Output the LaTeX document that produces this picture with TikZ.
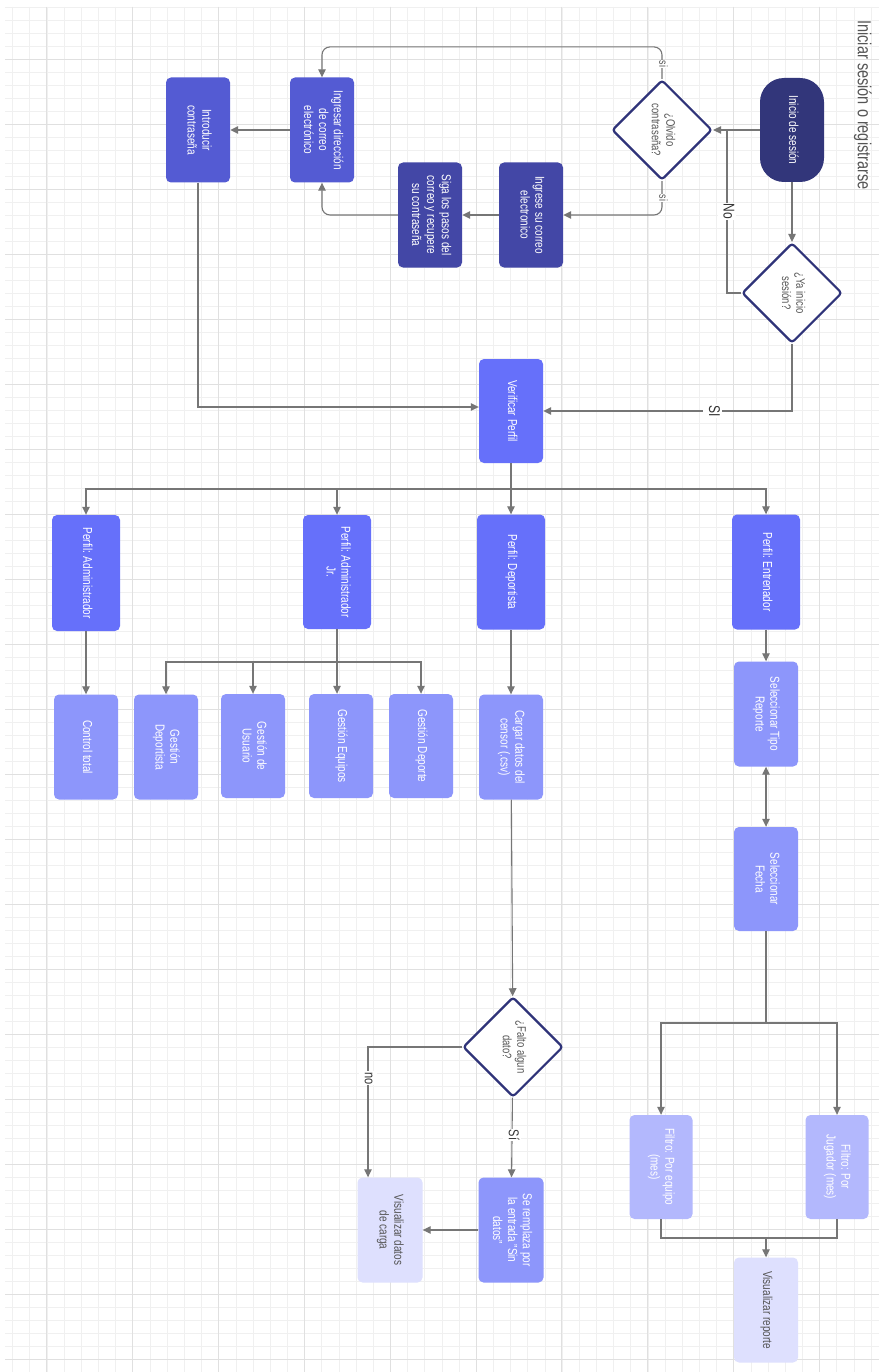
\documentclass[tikz,border=0pt]{standalone}
\usepackage{fontspec}
\setmainfont{Liberation Sans}
\usepackage{graphicx}
\usetikzlibrary{arrows.meta,shapes.geometric,calc}
\definecolor{navy}{HTML}{32367A}
\definecolor{dnavy}{HTML}{2F3379}
\definecolor{dblue}{HTML}{4347A6}
\definecolor{mblue}{HTML}{545BD3}
\definecolor{pblue}{HTML}{6670FA}
\definecolor{lblue}{HTML}{8D96FB}
\definecolor{fblue}{HTML}{B3B8FD}
\definecolor{vlight}{HTML}{DEE0FE}
\definecolor{edgegray}{HTML}{767676}
\definecolor{txtgray}{HTML}{555555}
\definecolor{gminor}{HTML}{F0F0F0}
\definecolor{gmajor}{HTML}{E0E0E0}
\newcommand{\rt}[1]{\rotatebox{-90}{\scalebox{1}[1.3]{\begin{tabular}{@{}c@{}}#1\end{tabular}}}}
\begin{document}
\begin{tikzpicture}[x=1pt,y=-1pt,
  box/.style={rectangle, rounded corners=5, inner sep=0pt, minimum width=64, minimum height=105, text=white, font=\fontsize{10}{11.5}\selectfont},
  dia/.style={diamond, aspect=1, inner sep=0pt, minimum width=100, minimum height=100, draw=dnavy, line width=2.2pt, fill=white, rounded corners=3, text=txtgray, font=\fontsize{9.5}{11}\selectfont},
  line/.style={draw=edgegray, line width=1.1pt},
  arr/.style={line, -{Triangle[length=8pt,width=7.5pt]}},
  darr/.style={line, {Triangle[length=8pt,width=7.5pt]}-{Triangle[length=8pt,width=7.5pt]}},
  lab/.style={fill=white, inner sep=1pt, text=txtgray, font=\fontsize{9}{10}\selectfont},
  blab/.style={fill=white, inner sep=1pt, text=black!80, font=\fontsize{12}{13}\selectfont},
  gminorl/.style={draw=gminor, line width=0.8pt},
  gmajorl/.style={draw=gmajor, line width=0.9pt}]
\useasboundingbox (0,0) rectangle (879,1372);
\fill[white] (0,0) rectangle (879,1372);
% grid
\foreach \i in {0,...,50} {\draw[gminorl] ({12.7+\i*17.17},7) -- ({12.7+\i*17.17},1372);}
\foreach \i in {0,...,104} {\draw[gminorl] (5,{7.3+\i*13}) -- (879,{7.3+\i*13});}
\foreach \i in {0,...,9} {\draw[gmajorl] ({46.7+\i*85.85},7) -- ({46.7+\i*85.85},1372);}
\foreach \i in {0,...,20} {\draw[gmajorl] (5,{59.3+\i*65}) -- (879,{59.3+\i*65});}

% title
\node[text=txtgray, font=\fontsize{14.5}{16}\selectfont, inner sep=0pt] (title) at (862,105) {\rt{Iniciar sesión o registrarse}};

% nodes
\node[box, fill=navy, rounded corners=24, minimum height=104] (inicio) at (792,130) {\rt{Inicio de sesión}};
\node[dia] (olvido) at (662,130) {\rt{¿Olvido\\contraseña?}};
\node[dia] (ya) at (792,293) {\rt{¿Ya inicio\\sesión?}};
\node[box, fill=dblue] (ingrese) at (531,215) {\rt{Ingrese su correo\\electronico}};
\node[box, fill=dblue] (siga) at (430,215) {\rt{Siga los pasos del\\correo y recupere\\su contraseña}};
\node[box, fill=mblue] (ingresar) at (322,130) {\rt{Ingresar dirección\\de correo\\electrónico}};
\node[box, fill=mblue] (introducir) at (198,130) {\rt{Introducir\\contraseña}};
\node[box, fill=pblue, minimum height=104] (verificar) at (511,411) {\rt{Verificar Perfil}};
\node[box, fill=pblue, minimum width=68, minimum height=115] (entrenador) at (766,572) {\rt{Perfil: Entrenador}};
\node[box, fill=pblue, minimum width=68, minimum height=115] (deportista) at (511,572) {\rt{Perfil: Deportista}};
\node[box, fill=pblue, minimum width=68, minimum height=114] (adminjr) at (337,572) {\rt{Perfil: Administrador\\Jr.}};
\node[box, fill=pblue, minimum width=68, minimum height=116] (admin) at (86,573) {\rt{Perfil: Administrador}};
\node[box, fill=lblue] (control) at (86,747) {\rt{Control total}};
\node[box, fill=lblue] (gdeportista) at (166,747) {\rt{Gestión\\Deportista}};
\node[box, fill=lblue, minimum height=104] (gusuario) at (253,746) {\rt{Gestión de\\Usuario}};
\node[box, fill=lblue, minimum height=104] (gequipos) at (341,746) {\rt{Gestión Equipos}};
\node[box, fill=lblue, minimum height=104] (gdeporte) at (421,746) {\rt{Gestión Deporte}};
\node[box, fill=lblue] (cargar) at (511,747) {\rt{Cargar datos del\\censor (.csv)}};
\node[box, fill=lblue] (tipo) at (766,714) {\rt{Seleccionar Tipo\\Reporte}};
\node[box, fill=lblue, minimum height=104] (fecha) at (766,879) {\rt{Seleccionar\\Fecha}};
\node[box, fill=fblue, minimum width=63, minimum height=104] (filtroE) at (661,1167) {\rt{Filtro: Por equipo\\(mes)}};
\node[box, fill=fblue, minimum width=63, minimum height=104] (filtroJ) at (837,1167) {\rt{Filtro: Por\\Jugador (mes)}};
\node[box, fill=vlight, text=txtgray] (visrep) at (766,1310) {\rt{Visualizar reporte}};
\node[dia] (falto) at (513,1047) {\rt{¿Falto algun\\dato?}};
\node[box, fill=lblue, minimum width=65] (remplaza) at (511,1230) {\rt{Se remplaza por\\la entrada "Sin\\datos"}};
\node[box, fill=vlight, text=txtgray, minimum width=65] (visdatos) at (390,1230) {\rt{Visualizar datos\\de carga}};

% coordinates
\coordinate (nojoin) at (727,130);
\coordinate (bus1) at (511,489);
\coordinate (bus2) at (337,662);
\coordinate (bus3) at (766,1023);
\coordinate (join3) at (766,1238);

% connectors
\draw[arr] (inicio) -- (ya);
\draw[arr] (inicio) -- (olvido);
\draw[line] (ya.west) -| (nojoin) node[pos=0.75, blab] {\rt{No}};
\draw[arr, rounded corners=8] (olvido.north) -- ++(0,-32) -| (ingresar.north);
\node[lab] (silab1) at (662,64) {\rt{si}};
\draw[arr, rounded corners=8] (olvido.south) |- (ingrese.east);
\node[lab] (silab2) at (662,198) {\rt{si}};
\draw[arr] (ingrese) -- (siga);
\draw[arr, rounded corners=8] (siga.west) -| (ingresar.south);
\draw[arr] (ingresar) -- (introducir);
\draw[arr] (introducir.south) |- ([yshift=4pt]verificar.west);
\draw[arr] (ya.south) |- (verificar.east) node[pos=0.66, blab] {\rt{SI}};
\draw[arr] (verificar) -- (deportista);
\draw[arr] (verificar.south) -- (bus1) -| (entrenador.north);
\draw[arr] (verificar.south) -- (bus1) -| (adminjr.north);
\draw[arr] (verificar.south) -- (bus1) -| (admin.north);
\draw[arr] (admin) -- (control);
\draw[arr] (adminjr.south) -- (bus2) -- (bus2 |- gequipos.north);
\draw[arr] (adminjr.south) -- (bus2) -| (gdeportista.north);
\draw[arr] (adminjr.south) -- (bus2) -| (gusuario.north);
\draw[arr] (adminjr.south) -- (bus2) -| (gdeporte.north);
\draw[arr] (deportista) -- (cargar);
\draw[arr] (cargar) -- (falto);
\draw[arr] (entrenador) -- (tipo);
\draw[darr] (tipo) -- (fecha);
\draw[arr] (fecha.south) -- (bus3) -| (filtroE.north);
\draw[arr] (fecha.south) -- (bus3) -| (filtroJ.north);
\draw[line] (filtroE.south) |- (join3) -| (filtroJ.south);
\draw[arr] (join3) -- (visrep);
\draw[arr] (falto) -- (remplaza) node[pos=0.47, blab, font=\fontsize{11}{12}\selectfont] {\rt{Sí}};
\draw[arr] (falto.west) -| ([xshift=-22pt]visdatos.north) node[pos=0.62, blab, font=\fontsize{11}{12}\selectfont] {\rt{no}};
\draw[arr] (remplaza) -- (visdatos);
\end{tikzpicture}
\end{document}
